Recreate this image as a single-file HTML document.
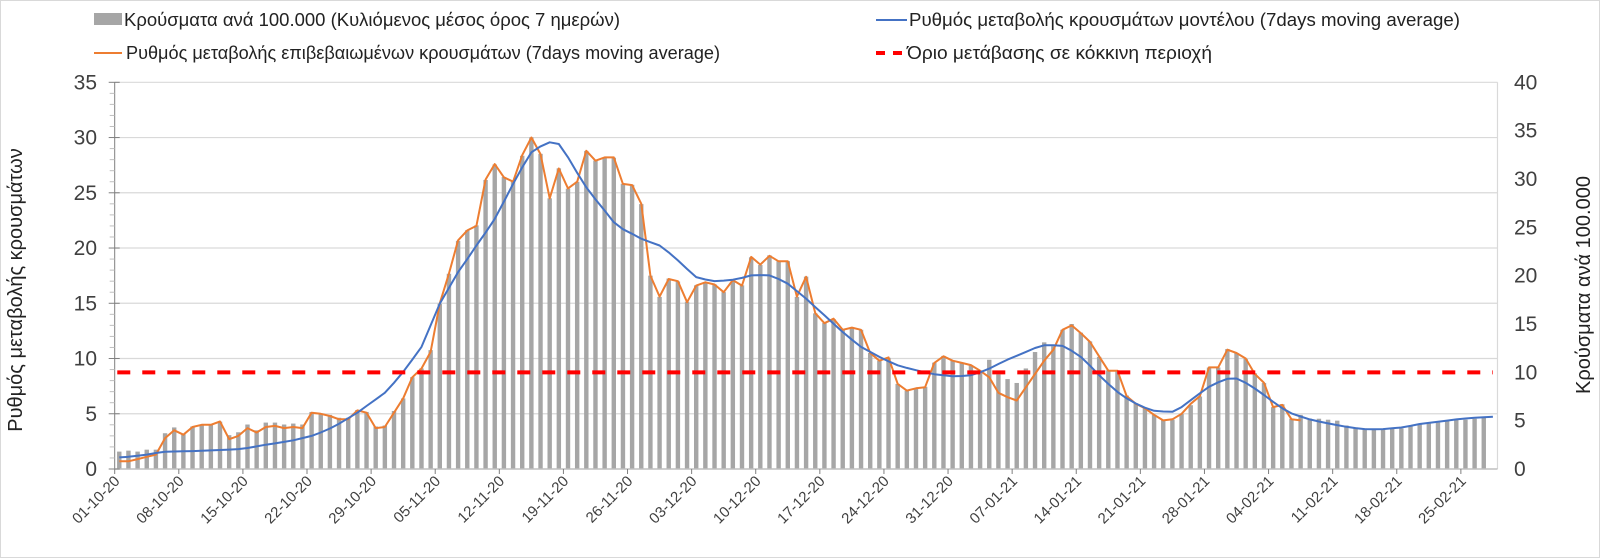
<!DOCTYPE html>
<html><head><meta charset="utf-8">
<style>
html,body{margin:0;padding:0;background:#fff;}
svg{display:block;font-family:"Liberation Sans Narrow","Liberation Sans",sans-serif;}
</style></head>
<body>
<svg id="chart" width="1600" height="558" viewBox="0 0 1600 558" xmlns="http://www.w3.org/2000/svg">
<rect x="0.5" y="0.5" width="1599" height="557" fill="#fff" stroke="#d9d9d9"/>
<g id="grid"></g>
<g id="bars"></g>
<g id="lines"></g>
<g id="axes"></g>
<g id="legend">
  <g>
    <rect x="94" y="13" width="28" height="12" fill="#a6a6a6"/>
    <text x="124" y="26" font-size="18" fill="#222" textLength="496" lengthAdjust="spacingAndGlyphs">Κρούσματα ανά 100.000 (Κυλιόμενος μέσος όρος 7 ημερών)</text>
  </g>
  <g>
    <line x1="94" y1="53" x2="122" y2="53" stroke="#ed7d31" stroke-width="2"/>
    <text x="126" y="59" font-size="18" fill="#222" textLength="594" lengthAdjust="spacingAndGlyphs">Ρυθμός μεταβολής επιβεβαιωμένων κρουσμάτων (7days moving average)</text>
  </g>
  <g>
    <line x1="876" y1="20" x2="907" y2="20" stroke="#4472c4" stroke-width="2"/>
    <text x="909" y="26" font-size="18" fill="#222" textLength="551" lengthAdjust="spacingAndGlyphs">Ρυθμός μεταβολής κρουσμάτων μοντέλου (7days moving average)</text>
  </g>
  <g>
    <line x1="876" y1="53" x2="907" y2="53" stroke="#ff0000" stroke-width="4" stroke-dasharray="9,8"/>
    <text x="907" y="59" font-size="18" fill="#222" textLength="305" lengthAdjust="spacingAndGlyphs">Όριο μετάβασης σε κόκκινη περιοχή</text>
  </g>
</g>
<text x="0" y="0" transform="translate(22,290) rotate(-90)" text-anchor="middle" font-size="20" fill="#222">Ρυθμός μεταβολής κρουσμάτων</text>
<text x="0" y="0" transform="translate(1590,285) rotate(-90)" text-anchor="middle" font-size="20" fill="#222">Κρούσματα ανά 100.000</text>
</svg>
<script>
const barValues=[1.8,1.9,1.8,2.0,2.0,3.7,4.3,3.6,4.4,4.6,4.6,4.9,3.5,3.8,4.6,4.0,4.8,4.8,4.6,4.7,4.6,5.9,5.7,5.6,5.3,5.3,6.1,5.9,4.4,4.5,
6.0,7.3,9.5,10.4,12.3,17.1,20.2,23.6,24.7,25.2,29.9,31.5,30.2,29.7,32.4,34.3,32.6,28.0,31.1,29.0,29.7,32.9,31.9,32.2,32.2,29.5,29.4,27.4,20.0,17.8,
19.7,19.4,17.3,19.0,19.3,19.1,18.3,19.5,19.0,21.9,21.1,22.1,21.5,21.5,17.8,19.9,16.1,15.1,15.5,14.4,14.6,14.4,12.0,11.2,11.5,8.8,8.1,8.3,8.5,11.0,
11.7,11.2,11.0,10.7,10.2,11.3,9.8,9.3,8.9,10.4,12.1,13.1,12.7,14.4,15.0,14.1,13.2,11.6,10.2,10.2,7.6,6.8,6.3,5.6,5.1,5.1,5.7,6.6,7.5,10.5,
10.5,12.4,12.0,11.4,9.9,8.9,6.4,6.7,5.2,5.6,5.2,5.2,5.1,5.0,4.5,4.2,4.2,4.1,4.1,4.2,4.2,4.4,4.6,4.7,4.8,5.0,5.1,5.1,5.2,5.3];
const orangeValues=[0.7,0.7,0.9,1.1,1.3,2.8,3.5,3.1,3.8,4.0,4.0,4.3,2.7,3.0,3.7,3.3,3.8,3.9,3.7,3.8,3.7,5.1,5.0,4.8,4.5,4.5,5.3,5.1,3.7,3.8,
5.1,6.4,8.3,9.1,10.6,15.0,17.7,20.7,21.6,22.0,26.2,27.6,26.4,26.0,28.4,30.0,28.5,24.5,27.2,25.4,26.0,28.8,27.9,28.2,28.2,25.8,25.7,24.0,17.5,15.6,
17.2,17.0,15.1,16.6,16.9,16.7,16.0,17.1,16.6,19.2,18.5,19.3,18.8,18.8,15.6,17.4,14.1,13.2,13.6,12.6,12.8,12.6,10.5,9.8,10.1,7.7,7.1,7.3,7.4,9.6,
10.2,9.8,9.6,9.4,8.9,8.3,6.9,6.5,6.2,7.4,8.6,9.8,10.8,12.6,13.0,12.3,11.5,10.2,8.9,8.9,6.6,5.9,5.5,4.9,4.4,4.5,5.0,5.9,6.6,9.2,
9.2,10.8,10.5,10.0,8.6,7.8,5.6,5.8,4.5,4.4];
const blueValues=[1.05,1.1,1.2,1.3,1.45,1.56,1.58,1.6,1.62,1.65,1.68,1.72,1.76,1.8,1.9,2.05,2.2,2.32,2.45,2.6,2.8,3.0,3.3,3.67,4.1,4.6,5.1,5.7,6.3,6.9,
7.8,8.8,9.9,11.05,13.0,14.97,16.4,17.82,19.0,20.23,21.4,22.64,24.2,25.8,27.3,28.66,29.2,29.57,29.42,28.21,26.8,25.5,24.4,23.4,22.34,21.7,21.29,20.84,20.53,20.23,
19.6,18.88,18.1,17.37,17.15,17.01,17.05,17.13,17.3,17.52,17.55,17.52,17.2,16.77,16.1,15.42,14.65,13.91,13.15,12.4,11.7,11.05,10.6,10.15,9.75,9.39,9.15,8.94,8.75,8.58,
8.48,8.4,8.42,8.49,8.75,9.09,9.5,9.9,10.25,10.6,10.95,11.2,11.2,11.14,10.7,10.15,9.35,8.49,7.7,6.98,6.4,5.93,5.55,5.27,5.2,5.18,5.6,6.23,6.85,7.44,
7.85,8.16,8.19,7.8,7.29,6.7,6.08,5.5,5.03,4.75,4.49,4.3,4.13,3.97,3.82,3.7,3.61,3.6,3.61,3.68,3.76,3.9,4.07,4.17,4.27,4.38,4.49,4.57,4.64,4.69,4.73];
const thresholdValue=10;
const dateLabels=["01-10-20","08-10-20","15-10-20","22-10-20","29-10-20","05-11-20","12-11-20","19-11-20","26-11-20","03-12-20","10-12-20","17-12-20","24-12-20","31-12-20","07-01-21","14-01-21","21-01-21","28-01-21","04-02-21","11-02-21","18-02-21","25-02-21"];
const leftTicks=[0,5,10,15,20,25,30,35];
const rightTicks=[0,5,10,15,20,25,30,35,40];

const NS="http://www.w3.org/2000/svg";
const X0=114.7,X1=1497.5,NCAT=151,BW=(X1-X0)/NCAT,Y0=469;
const yTop=82.3;
function xBand(d){return X0+BW*d;}
function xC(d){return X0+BW*(d+0.5);}
function yL(v){return Y0-v*(Y0-yTop)/35;}
function yR(v){return Y0-v*(Y0-yTop)/40;}
function mk(tag,attrs,parent){const e=document.createElementNS(NS,tag);for(const k in attrs)e.setAttribute(k,attrs[k]);parent.appendChild(e);return e;}

const grid=document.getElementById('grid'),bars=document.getElementById('bars'),lines=document.getElementById('lines'),axes=document.getElementById('axes');
leftTicks.forEach(t=>{if(t===0)return;
  const g=mk('line',{x1:X0,x2:X1,y1:yL(t),y2:yL(t),stroke:'#d9d9d9','stroke-width':1.2},grid);
  
  
});
barValues.forEach((v,i)=>{
  const r=mk('rect',{x:xC(i)-2.2,y:yR(v),width:4.4,height:Y0-yR(v),fill:'#a6a6a6'},bars);
  
  
});
function poly(vals,color,name){
  const p=mk('polyline',{points:vals.map((v,i)=>xC(i).toFixed(1)+','+yL(v).toFixed(1)).join(' '),fill:'none',stroke:color,'stroke-width':2,'stroke-linejoin':'round'},lines);
  
  
}
poly(orangeValues,'#ed7d31','orange-confirmed-rate-line');
poly(blueValues,'#4472c4','blue-model-rate-line');
const th=mk('line',{x1:xC(0)-2,x2:xC(150),y1:yR(thresholdValue),y2:yR(thresholdValue),stroke:'#ff0000','stroke-width':4,'stroke-dasharray':'13,12'},lines);



// axes
const la=mk('line',{x1:X0,x2:X0,y1:yTop,y2:Y0,stroke:'#7f7f7f','stroke-width':1},axes);


const ra=mk('line',{x1:X1,x2:X1,y1:yTop,y2:Y0,stroke:'#d9d9d9','stroke-width':1.2},axes);


const xa=mk('line',{x1:X0,x2:X1,y1:Y0,y2:Y0,stroke:'#bfbfbf','stroke-width':1.5},axes);


for(let m=0;m<=35;m++){
  const major=m%5===0;
  const tk=mk('line',{x1:X0-(major?6:5),x2:major?X0+5:X0,y1:yL(m),y2:yL(m),stroke:major?'#7f7f7f':'#bfbfbf','stroke-width':1},axes);
  
  
}
leftTicks.forEach(t=>{
  const tx=mk('text',{x:97,y:yL(t)+7,'text-anchor':'end','font-size':21,fill:'#404040'},axes);
  tx.textContent=t;
  
  
});
rightTicks.forEach(t=>{
  const tx=mk('text',{x:1514,y:yR(t)+7,'text-anchor':'start','font-size':21,fill:'#404040'},axes);
  tx.textContent=t;
  
  
});
dateLabels.forEach((lab,k)=>{
  const xt=xBand(k*7);
  const tk=mk('line',{x1:xt,x2:xt,y1:Y0,y2:Y0+5,stroke:'#7f7f7f','stroke-width':1},axes);
  
  
  const tx=mk('text',{x:0,y:0,transform:'translate('+(xt+6)+',482) rotate(-45)','text-anchor':'end','font-size':15,fill:'#404040'},axes);
  tx.textContent=lab;
  
  
});
</script>
</body></html>
